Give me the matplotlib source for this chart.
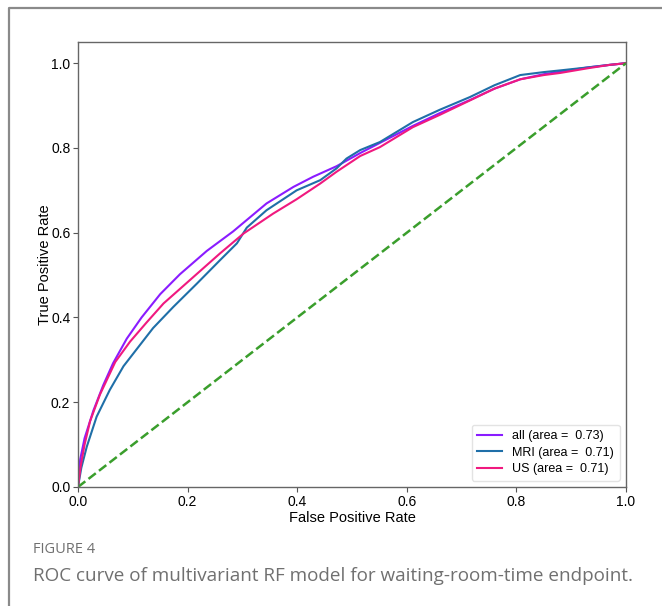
import matplotlib.pyplot as plt
from matplotlib.lines import Line2D

# ROC points
all_fpr = [0, 0.004, 0.012, 0.028, 0.046, 0.064, 0.089, 0.116, 0.150, 0.186, 0.235, 0.283,
           0.344, 0.393, 0.429, 0.472, 0.515, 0.551, 0.611, 0.66, 0.715, 0.76, 0.807, 0.85,
           0.88, 0.93, 0.97, 1.0]
all_tpr = [0, 0.065, 0.115, 0.18, 0.24, 0.292, 0.35, 0.40, 0.455, 0.502, 0.557, 0.603,
           0.669, 0.708, 0.732, 0.757, 0.788, 0.812, 0.852, 0.882, 0.913, 0.94, 0.962, 0.974,
           0.98, 0.99, 0.996, 1.0]

mri_fpr = [0, 0.006, 0.016, 0.034, 0.058, 0.083, 0.113, 0.137, 0.174, 0.217, 0.259, 0.290,
           0.308, 0.344, 0.399, 0.442, 0.472, 0.49, 0.515, 0.551, 0.611, 0.66, 0.715, 0.76,
           0.807, 0.85, 0.88, 0.93, 0.97, 1.0]
mri_tpr = [0, 0.045, 0.095, 0.166, 0.229, 0.285, 0.335, 0.375, 0.425, 0.480, 0.535, 0.575,
           0.612, 0.653, 0.700, 0.724, 0.752, 0.775, 0.795, 0.814, 0.861, 0.89, 0.92, 0.948,
           0.972, 0.979, 0.983, 0.99, 0.996, 1.0]

us_fpr = [0, 0.005, 0.012, 0.022, 0.040, 0.068, 0.095, 0.125, 0.156, 0.204, 0.259, 0.302,
          0.356, 0.399, 0.442, 0.472, 0.515, 0.551, 0.611, 0.66, 0.715, 0.76, 0.807, 0.85,
          0.88, 0.93, 0.97, 1.0]
us_tpr = [0, 0.05, 0.1, 0.155, 0.218, 0.295, 0.343, 0.388, 0.433, 0.488, 0.551, 0.598,
          0.645, 0.679, 0.716, 0.744, 0.781, 0.802, 0.849, 0.878, 0.912, 0.94, 0.962, 0.972,
          0.977, 0.988, 0.996, 1.0]

labels = ["all (area =  0.73)", "MRI (area =  0.71)", "US (area =  0.71)"]
ticks = [0.0, 0.2, 0.4, 0.6, 0.8, 1.0]

plt.rcParams['font.family'] = ['Liberation Sans', 'DejaVu Sans']

fig = plt.figure(figsize=(6.62, 6.06), dpi=100)
ax = fig.add_axes([78 / 662, 1 - 487 / 606, 548 / 662, 445 / 606])

ax.plot(all_fpr, all_tpr, color='#8a1cff', lw=1.5, label=labels[0])
ax.plot(mri_fpr, mri_tpr, color='#1f6fa8', lw=1.5, label=labels[1])
ax.plot(us_fpr, us_tpr, color='#f0197f', lw=1.5, label=labels[2])
ax.plot([0, 1], [0, 1], color='#3a9e2c', lw=1.8, ls='--')

ax.set_xlim(0, 1.0)
ax.set_ylim(0, 1.05)
ax.set_xticks(ticks)
ax.set_yticks(ticks)
ax.set_xticklabels([f"{t:.1f}" for t in ticks])
ax.set_yticklabels([f"{t:.1f}" for t in ticks])
ax.tick_params(labelsize=10, length=3.5, width=0.8, color='#555555', pad=2)
for s in ax.spines.values():
    s.set_color('#666666')
    s.set_linewidth(1.0)

ax.set_xlabel("False Positive Rate", fontsize=10.5, labelpad=1.5)
ax.set_ylabel("True Positive Rate", fontsize=10.5, labelpad=-1)

leg = ax.legend(loc='lower right', fontsize=9, frameon=True, fancybox=True,
                borderpad=0.45, handlelength=2.0, labelspacing=0.35,
                borderaxespad=0.5)
leg.get_frame().set_edgecolor('#dddddd')

# card border on left and top
fig.add_artist(Line2D([8.5 / 662, 8.5 / 662, 1.0], [0, 1 - 7.5 / 606, 1 - 7.5 / 606],
                      color='#8a8a8a', lw=1.6, transform=fig.transFigure))

fig.text(33 / 662, 1 - 553 / 606, "FIGURE 4", fontsize=10.5, color='#707070',
         family=['Open Sans', 'DejaVu Sans'])
fig.text(33 / 662, 1 - 581 / 606,
         "ROC curve of multivariant RF model for waiting-room-time endpoint.",
         fontsize=13.6, color='#707070', family=['Open Sans', 'DejaVu Sans'])

fig.savefig("out.png", dpi=100)
